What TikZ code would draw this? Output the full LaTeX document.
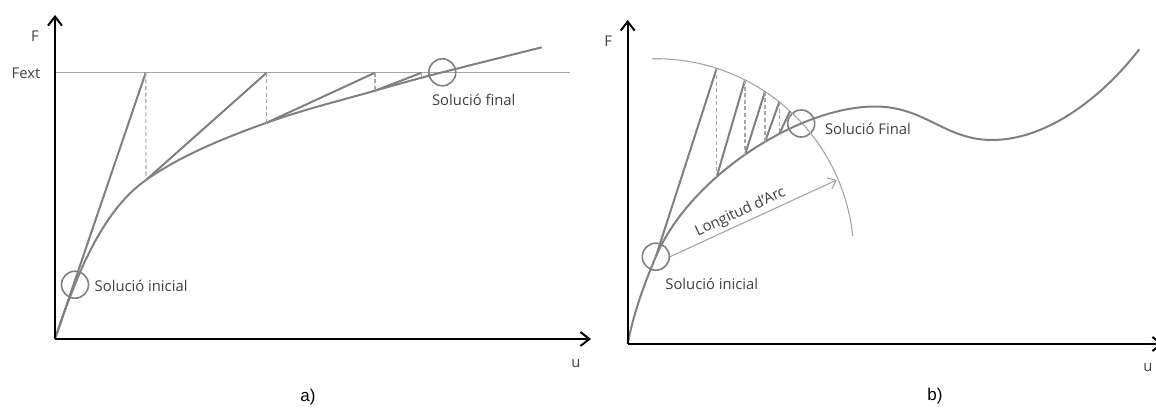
\documentclass[tikz,border=0pt]{standalone}
\usepackage{fontspec}
\setmainfont{Open Sans}
\newfontfamily\capfont{Liberation Sans}
\usetikzlibrary{arrows.meta}
\definecolor{curvegray}{HTML}{808080}
\definecolor{guidegray}{HTML}{A6A6A6}
\definecolor{textgray}{HTML}{404040}
\begin{document}
\begin{tikzpicture}[x=0.5pt,y=-0.5pt,
  axis/.style={line width=1.1pt, draw=black, -{Straight Barb[length=4.5pt,width=7pt,line width=1pt]}},
  curve/.style={line width=1pt, draw=curvegray},
  guide/.style={line width=0.55pt, draw=guidegray},
  dashv/.style={line width=0.55pt, draw=guidegray, dash pattern=on 2pt off 1.3pt},
  thinarrow/.style={line width=0.55pt, draw=guidegray, -{Straight Barb[length=3.5pt,width=6pt,line width=0.55pt]}},
  ring/.style={circle, draw=curvegray, line width=0.8pt, minimum size=13.5pt, inner sep=0pt},
  lbl/.style={text=textgray, font=\fontsize{7.4}{9}\selectfont, inner sep=0pt},
  captxt/.style={text=black, font=\capfont\fontsize{8.5}{10}\selectfont, inner sep=0pt}]
\clip (0,0) rectangle (1156,407);
\fill[white] (0,0) rectangle (1156,407);

% ---------------- panel a ----------------
\coordinate (Oa) at (55,339);
\coordinate (Ya) at (55,15);
\coordinate (Xa) at (591,339);
\coordinate (fl) at (55,72.7);
\coordinate (fr) at (570,72.7);
\coordinate (p1) at (146,180);
\coordinate (p2) at (266.7,122.7);
\coordinate (p3) at (375,90.7);
\coordinate (t1) at (145.7,72.7);
\coordinate (t2) at (266.7,72.7);
\coordinate (t3) at (375,72.7);
\coordinate (t4) at (421.7,72.7);
\coordinate (b4) at (421.7,77.6);
\coordinate (ea) at (541.7,47.3);

\draw[guide] (fl) -- (fr);
\node[ring] (ia) at (75,284.7) {};
\node[ring] (fa) at (442.3,72.3) {};

\draw[curve] (Oa) .. controls (75.8,277.4) and (101,211.5) .. (p1)
  .. controls (182,154.8) and (225.3,137.6) .. (p2)
  .. controls (301.5,110.2) and (339.4,100.8) .. (p3)
  .. controls (397.1,84.4) and (420,77.9) .. (fa.center) -- (ea);
\draw[curve] (Oa) -- (t1);
\draw[curve] (p1) -- (t2);
\draw[curve] (p2) -- (t3);
\draw[curve] (p3) -- (t4);
\draw[dashv] (t1) -- (p1);
\draw[dashv] (t2) -- (p2);
\draw[dashv] (t3) -- (p3);
\draw[dashv] (t4) -- (b4);

\draw[axis] (Oa) -- (Ya);
\draw[axis] (Oa) -- (Xa);

\node[lbl] (Fa) at (35,36) {F};
\node[lbl] (Fext) at (26,73) {Fext};
\node[lbl] (ua) at (576,364) {u};
\node[lbl, anchor=west] (tia) at (94.3,285.7) {Solució inicial};
\node[lbl, anchor=west] (tfa) at (431.7,100) {Solució final};
\node[captxt] (capa) at (308,397) {a)};

% ---------------- panel b ----------------
\coordinate (Ob) at (627.7,344);
\coordinate (Yb) at (627.7,20);
\coordinate (Xb) at (1163,344);
\coordinate (T1) at (716.7,68.3);
\coordinate (T2) at (745,79.9);
\coordinate (T3) at (765,91.5);
\coordinate (T4) at (779.3,101.9);
\coordinate (T5) at (790,111.1);
\coordinate (B1) at (716.7,176.8);
\coordinate (B2) at (745,154.7);
\coordinate (B3) at (765,141.8);
\coordinate (B4) at (779.3,133.8);
\coordinate (pk) at (875,106.5);
\coordinate (mn) at (992,140);
\coordinate (eb) at (1139.3,49.3);
\coordinate (AE) at (836.7,180);

\node[ring] (ib) at (655.8,256.7) {};
\node[ring] (fb) at (801.2,123.5) {};

\draw[guide] plot[domain=6:91, samples=80] ({655.8+198*cos(\x)},{256.7-198*sin(\x)});

\draw[curve] (Ob) .. controls (633,315) and (644,284.3) .. (ib.center)
  .. controls (690.8,175) and (800,106.5) .. (pk)
  .. controls (925,106.5) and (945,140) .. (mn)
  .. controls (1045,140) and (1100,100) .. (eb);
\draw[curve] (ib.center) -- (T1);
\draw[curve] (B1) -- (T2);
\draw[curve] (B2) -- (T3);
\draw[curve] (B3) -- (T4);
\draw[curve] (B4) -- (T5);
\draw[dashv] (T1) -- (B1);
\draw[dashv] (T2) -- (B2);
\draw[dashv] (T3) -- (B3);
\draw[dashv] (T4) -- (B4);

\draw[thinarrow] (ib.east) -- node[lbl, pos=0.45, sloped, above=1.5pt] (arclbl) {Longitud d'Arc} (AE);

\draw[axis] (Ob) -- (Yb);
\draw[axis] (Ob) -- (Xb);

\node[lbl] (Fb) at (608.3,41.7) {F};
\node[lbl] (ub) at (1148,368) {u};
\node[lbl, anchor=west] (tib) at (665,284) {Solució inicial};
\node[lbl, anchor=west] (tfb) at (824.6,128.5) {Solució Final};
\node[captxt] (capb) at (935,396) {b)};
\end{tikzpicture}
\end{document}
